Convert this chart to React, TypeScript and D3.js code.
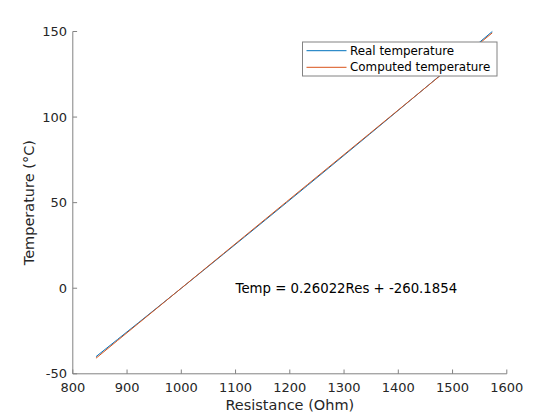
import React from "react";
import * as d3 from "d3";

const resistance = [842.71, 882.22, 921.6, 960.86, 1000.0, 1039.03, 1077.94, 1116.73, 1155.41, 1193.97, 1232.42, 1270.75, 1308.97, 1347.07, 1385.06, 1422.93, 1460.68, 1498.32, 1535.84, 1573.25];
const realTemp = [-40, -30, -20, -10, 0, 10, 20, 30, 40, 50, 60, 70, 80, 90, 100, 110, 120, 130, 140, 150];
const computedTemp = [-40.9, -30.61, -20.37, -10.15, 0.03, 10.19, 20.32, 30.41, 40.48, 50.51, 60.52, 70.49, 80.44, 90.35, 100.24, 110.09, 119.91, 129.71, 139.47, 149.21];
const xTicks = [800, 900, 1000, 1100, 1200, 1300, 1400, 1500, 1600];
const yTicks = [-50, 0, 50, 100, 150];
const seriesNames = ["Real temperature", "Computed temperature"];
const seriesColors = ["#0072BD", "#D95319"];
const annotation = "Temp = 0.26022Res + -260.1854";

export default function App() {
  const W = 560, H = 420;
  const left = 72.8, right = 506.8, top = 31.5, bottom = 373.8;
  const x = d3.scaleLinear().domain([800, 1600]).range([left, right]);
  const y = d3.scaleLinear().domain([-50, 150]).range([bottom, top]);
  const line = (ys: number[]) =>
    d3.line<number>().x((_, i) => x(resistance[i])).y((d) => y(d))(ys) || "";
  const textColor = "#262626";
  const axisColor = "#828282";
  const font = "DejaVu Sans, sans-serif";
  const tickLen = 4.3;
  return (
    <svg width={W} height={H} style={{ position: "absolute", left: 0, top: 0, background: "#fff" }} fontFamily={font}>
      <rect x={0} y={0} width={W} height={H} fill="#fff" />
      <path d={line(realTemp)} fill="none" stroke={seriesColors[0]} strokeWidth={1} />
      <path d={line(computedTemp)} fill="none" stroke={seriesColors[1]} strokeWidth={1} />
      {/* axes */}
      <line x1={left} x2={right} y1={bottom} y2={bottom} stroke={axisColor} strokeWidth={1} />
      <line x1={left} x2={left} y1={top} y2={bottom} stroke={axisColor} strokeWidth={1} />
      {xTicks.map((t) => (
        <g key={"x" + t}>
          <line x1={x(t)} x2={x(t)} y1={bottom} y2={bottom - tickLen} stroke={axisColor} strokeWidth={1} />
          <text x={x(t)} y={392} fontSize={13} fill={textColor} textAnchor="middle">{t}</text>
        </g>
      ))}
      {yTicks.map((t) => (
        <g key={"y" + t}>
          <line x1={left} x2={left + tickLen} y1={y(t)} y2={y(t)} stroke={axisColor} strokeWidth={1} />
          <text x={67} y={y(t)} dy="0.35em" fontSize={13} fill={textColor} textAnchor="end">{t}</text>
        </g>
      ))}
      <text x={(left + right) / 2} y={410} fontSize={14.5} fill={textColor} textAnchor="middle">Resistance (Ohm)</text>
      <text transform={`translate(34,${(top + bottom) / 2}) rotate(-90)`} fontSize={14.5} fill={textColor} textAnchor="middle">Temperature (°C)</text>
      <text x={x(1100)} y={y(0)} dy="0.35em" fontSize={13.3} fill="#000">{annotation}</text>
      {/* legend */}
      <rect x={302.5} y={42} width={194.5} height={34} fill="#fff" stroke={axisColor} strokeWidth={1} />
      {seriesNames.map((n, i) => (
        <g key={n}>
          <line x1={306.5} x2={346.5} y1={50.7 + i * 16.6} y2={50.7 + i * 16.6} stroke={seriesColors[i]} strokeWidth={1} />
          <text x={350} y={50.7 + i * 16.6} dy="0.35em" fontSize={11.9} fill="#000">{n}</text>
        </g>
      ))}
    </svg>
  );
}
